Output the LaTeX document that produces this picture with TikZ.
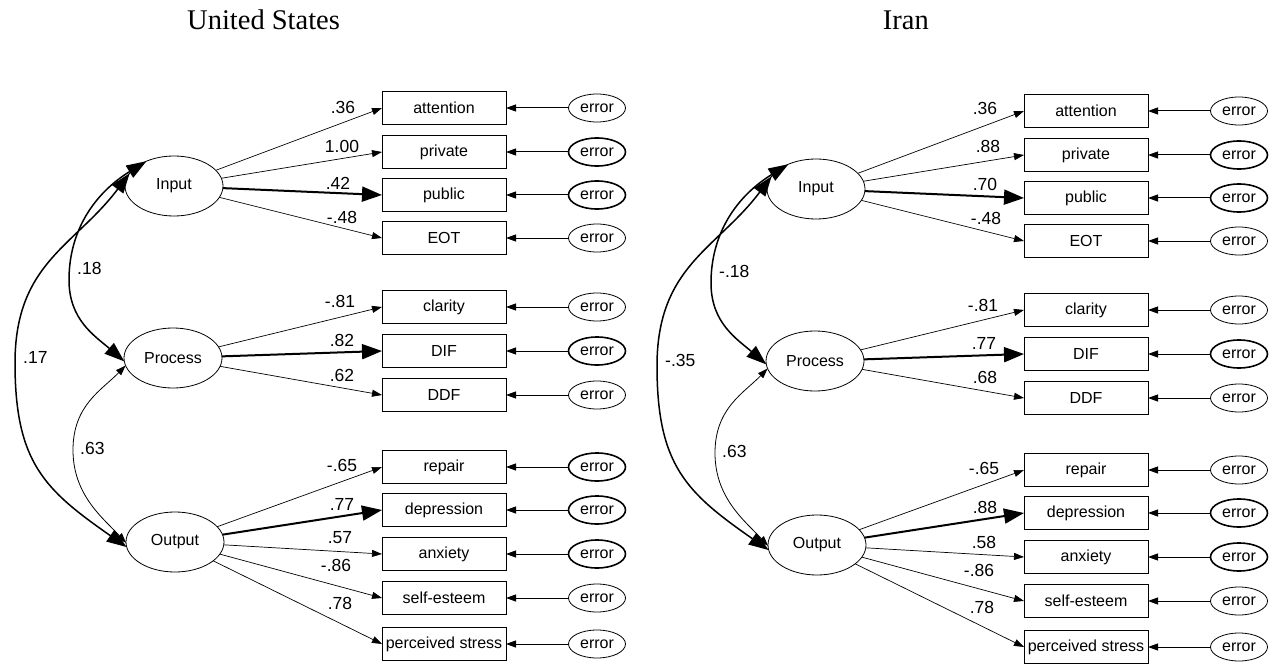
\documentclass[tikz,border=0pt]{standalone}
\usepackage{fontspec}
\setmainfont{Liberation Serif}
\setsansfont{Liberation Sans}
\usetikzlibrary{arrows.meta,shapes.geometric}

\tikzset{
  wordfont/.style={font=\sffamily\fontsize{16}{19}\selectfont},
  latent/.style={draw, ellipse, line width=0.8pt, minimum width=98pt,
    minimum height=60pt, inner sep=0pt, outer sep=0pt, wordfont},
  obs/.style={draw, rectangle, line width=0.9pt, minimum width=124pt,
    minimum height=33pt, inner sep=0pt, outer sep=0pt, wordfont},
  err/.style={draw, ellipse, minimum width=57pt, minimum height=28pt,
    inner sep=0pt, outer sep=0pt, wordfont},
  errt/.style={line width=0.8pt},
  errb/.style={line width=1.6pt},
  ld/.style={line width=0.7pt, -{Triangle[length=10pt,width=7pt]}},
  ldb/.style={line width=2pt, -{Triangle[length=20pt,width=15pt]}},
  errarrow/.style={line width=1pt, -{Triangle[length=10pt,width=7pt]}},
  corrb/.style={line width=1.5pt,
    {Triangle[length=20pt,width=14pt]}-{Triangle[length=20pt,width=14pt]}},
  corrt/.style={line width=0.8pt,
    {Triangle[length=10pt,width=7pt]}-{Triangle[length=10pt,width=7pt]}},
  num/.style={font=\sffamily\fontsize{17.5}{20}\selectfont, inner sep=0pt},
  title/.style={font=\fontsize{28.5}{32}\selectfont, inner sep=0pt}
}

% One measurement model: three latent factors, their indicators with
% error terms, and the factor correlations.
% #1 name prefix, #2 indicator list, #3-#5 factor correlations
\newcommand\sempanel[5]{%
  \node[latent] (#1In)  at (174,186) {Input};
  \node[latent] (#1Pr)  at (173,358) {Process};
  \node[latent] (#1Out) at (175,542) {Output};
  \foreach \nm/\txt/\yy/\lat/\sty/\val/\lx/\ly/\es in {#2}{
    \node[obs] (#1\nm) at (444,\yy) {\txt};
    \node[err,\es] (#1\nm-e) at (597,\yy) {error};
    \draw[errarrow] (#1\nm-e) -- (#1\nm);
    \draw[\sty] (#1\lat) -- (#1\nm.west);
    \node[num] (#1\nm-v) at (\lx,\ly) {\val};
  }
  \draw[corrb] (#1In.138) .. controls (95,193) and (69,230) .. (69,280)
    .. controls (69,320) and (95,336) .. (#1Pr.184);
  \draw[corrb] (#1In.164) .. controls (75,246) and (15,263) .. (15,363)
    .. controls (15,463) and (45,490) .. (#1Out.186);
  \draw[corrt] (#1Pr.189) .. controls (102,390) and (73,405) .. (73,450)
    .. controls (73,495) and (103,518) .. (#1Out.181);
  \node[num, anchor=west] (#1r1) at (77,268) {#3};
  \node[num, anchor=west] (#1r2) at (23,357) {#4};
  \node[num, anchor=west] (#1r3) at (80,448) {#5};
}

\begin{document}
\begin{tikzpicture}[x=1pt,y=-1pt]
\useasboundingbox (0,0) rectangle (1278,666);

\node[title, anchor=base west] (usTitle) at (187,30) {United States};
\node[title, anchor=base east] (irTitle) at (929,30) {Iran};

\begin{scope}
\sempanel{us}{%
  att/attention/108/In/ld/.36/343/107/errt,
  prv/private/152/In/ld/1.00/342/146/errb,
  pub/public/195/In/ldb/.42/338/183/errb,
  eot/EOT/238/In/ld/-.48/342/217/errt,
  cla/clarity/307/Pr/ld/-.81/340/301/errt,
  dif/DIF/351/Pr/ldb/.82/342/340/errb,
  ddf/DDF/395/Pr/ld/.62/342/375/errt,
  rep/repair/467/Out/ld/-.65/342/465/errb,
  dep/depression/510/Out/ldb/.77/342/504/errb,
  anx/anxiety/554/Out/ld/.57/340/538/errb,
  sel/self-esteem/598/Out/ld/-.86/336/565/errt,
  pst/perceived stress/644/Out/ld/.78/340/603/errt}{.18}{.17}{.63}
\end{scope}

\begin{scope}[shift={(642,3)}]
\sempanel{ir}{%
  att/attention/108/In/ld/.36/343/105/errt,
  prv/private/152/In/ld/.88/346/143/errb,
  pub/public/195/In/ldb/.70/343/181/errb,
  eot/EOT/238/In/ld/-.48/344/215/errt,
  cla/clarity/307/Pr/ld/-.81/341/302/errt,
  dif/DIF/351/Pr/ldb/.77/342/340/errb,
  ddf/DDF/395/Pr/ld/.68/343/374/errt,
  rep/repair/467/Out/ld/-.65/342/465/errt,
  dep/depression/510/Out/ldb/.88/343/504/errb,
  anx/anxiety/554/Out/ld/.58/342/539/errb,
  sel/self-esteem/598/Out/ld/-.86/337/567/errt,
  pst/perceived stress/644/Out/ld/.78/340/604/errt}{-.18}{-.35}{.63}
\end{scope}
\end{tikzpicture}
\end{document}
